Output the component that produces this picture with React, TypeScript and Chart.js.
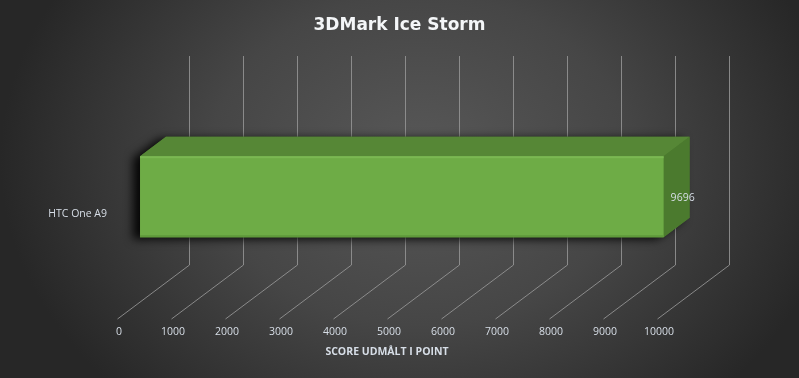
import React, { useEffect, useRef } from 'react';
import { Chart, registerables } from 'chart.js';

Chart.register(...registerables);

const chartTitle = '3DMark Ice Storm';
const axisTitle = 'SCORE UDMÅLT I POINT';
const categories = ['HTC One A9'];
const scores = [9696];
const scaleMin = 0;
const scaleMax = 10000;
const scaleStep = 1000;

const FONT = "'Open Sans', 'DejaVu Sans', sans-serif";
const TITLE_FONT = "'DejaVu Sans', 'Open Sans', sans-serif";
const LABEL_COLOR = '#d7dee7';

// 3D projection helpers (depth offsets)
const FLOOR_DX = 72;
const FLOOR_DY = -54;
const WALL_RISE = 209;
const BAR_FRONT = 0.32;
const BAR_DEPTH = 0.36;

const backgroundPlugin = {
  id: 'bg',
  beforeDraw(chart: any) {
    const { ctx } = chart;
    ctx.save();
    ctx.translate(420, 160);
    ctx.scale(1, 330 / 420);
    const g = ctx.createRadialGradient(0, 0, 0, 0, 0, 420);
    g.addColorStop(0, '#585858');
    g.addColorStop(0.5, '#464646');
    g.addColorStop(1, '#272727');
    ctx.fillStyle = g;
    ctx.fillRect(-1000, -1000, 3000, 3000);
    ctx.restore();
  },
};

const floorPlugin = {
  id: 'floor3d',
  beforeDatasetsDraw(chart: any) {
    const { ctx, chartArea } = chart;
    const xs = chart.scales.x;
    const bottom = chartArea.bottom;
    ctx.save();
    ctx.strokeStyle = 'rgba(150,150,150,0.85)';
    ctx.lineWidth = 1;
    xs.ticks.forEach((t: any) => {
      const px = Math.round(xs.getPixelForValue(t.value)) + 0.5;
      ctx.beginPath();
      ctx.moveTo(px, bottom);
      ctx.lineTo(px + FLOOR_DX, bottom + FLOOR_DY);
      ctx.lineTo(px + FLOOR_DX, bottom + FLOOR_DY - WALL_RISE);
      ctx.stroke();
    });
    ctx.restore();
  },
  afterDatasetsDraw(chart: any) {
    const { ctx } = chart;
    const meta = chart.getDatasetMeta(0);
    const fdx = FLOOR_DX * BAR_FRONT;
    const fdy = FLOOR_DY * BAR_FRONT;
    const bdx = FLOOR_DX * BAR_DEPTH;
    const bdy = FLOOR_DY * BAR_DEPTH;
    meta.data.forEach((el: any, i: number) => {
      const { x, y, base, height } = el.getProps(['x', 'y', 'base', 'height'], true);
      const L = base + fdx;
      const R = x + fdx;
      const T = y - height / 2 + fdy;
      const B = y + height / 2 + fdy;
      ctx.save();
      // shadow silhouette
      ctx.shadowColor = 'rgba(0,0,0,0.9)';
      ctx.shadowBlur = 10;
      ctx.shadowOffsetX = -7;
      ctx.shadowOffsetY = 2;
      ctx.fillStyle = '#4b7a2d';
      ctx.beginPath();
      ctx.moveTo(L, B);
      ctx.lineTo(L, T);
      ctx.lineTo(L + bdx, T + bdy);
      ctx.lineTo(R + bdx, T + bdy);
      ctx.lineTo(R + bdx, B + bdy);
      ctx.lineTo(R, B);
      ctx.closePath();
      ctx.fill();
      ctx.restore();

      ctx.save();
      // top face
      ctx.fillStyle = '#568736';
      ctx.beginPath();
      ctx.moveTo(L, T);
      ctx.lineTo(L + bdx, T + bdy);
      ctx.lineTo(R + bdx, T + bdy);
      ctx.lineTo(R, T);
      ctx.closePath();
      ctx.fill();
      // side face
      ctx.fillStyle = '#4b7a2e';
      ctx.beginPath();
      ctx.moveTo(R, T);
      ctx.lineTo(R + bdx, T + bdy);
      ctx.lineTo(R + bdx, B + bdy);
      ctx.lineTo(R, B);
      ctx.closePath();
      ctx.fill();
      // front face
      ctx.fillStyle = '#6eac46';
      ctx.fillRect(L, T, R - L, B - T);
      ctx.fillStyle = '#7bb853';
      ctx.fillRect(L, T, R - L, 2);
      ctx.fillStyle = '#5f9a3b';
      ctx.fillRect(L, B - 2, R - L, 2);
      // value label
      ctx.fillStyle = LABEL_COLOR;
      ctx.font = `10.5px ${FONT}`;
      ctx.textAlign = 'left';
      ctx.textBaseline = 'middle';
      ctx.fillText(String(scores[i]), R + 7, (T + B) / 2 + 1);
      ctx.restore();
    });
  },
};

export default function App() {
  const ref = useRef<HTMLCanvasElement | null>(null);
  useEffect(() => {
    if (!ref.current) return;
    const chart = new Chart(ref.current, {
      type: 'bar',
      data: {
        labels: categories,
        datasets: [
          {
            label: 'Score',
            data: scores,
            backgroundColor: 'rgba(0,0,0,0)',
            borderWidth: 0,
            barThickness: 81,
          },
        ],
      },
      options: {
        indexAxis: 'y',
        animation: false,
        responsive: false,
        devicePixelRatio: 1,
        layout: { padding: { left: 0, right: 0, top: 0, bottom: 0 } },
        plugins: {
          legend: { display: false },
          tooltip: { enabled: false },
          title: {
            display: true,
            text: chartTitle,
            color: '#f4f6f8',
            font: { family: TITLE_FONT, size: 17, weight: 'bold' },
            padding: { top: 15, bottom: 73.6 },
          },
        },
        scales: {
          x: {
            type: 'linear',
            min: scaleMin,
            max: scaleMax,
            grid: { display: false, drawTicks: false },
            border: { display: false },
            ticks: {
              stepSize: scaleStep,
              color: LABEL_COLOR,
              font: { family: FONT, size: 10.5 },
              padding: 7,
              labelOffset: 2,
              callback: (v: any) => String(v),
            },
            title: {
              display: true,
              text: axisTitle,
              color: LABEL_COLOR,
              font: { family: FONT, size: 10.5, weight: 'bold' },
              padding: { top: 0, bottom: 19.4 },
            },
            afterFit: (s: any) => {
              s.height = 59;
            },
          },
          y: {
            type: 'category',
            grid: { display: false, drawTicks: false },
            border: { display: false },
            ticks: {
              color: LABEL_COLOR,
              font: { family: FONT, size: 10.5 },
              padding: 10,
            },
            afterFit: (s: any) => {
              s.width = 117;
            },
          },
          yRight: {
            type: 'category',
            position: 'right',
            display: true,
            grid: { display: false, drawTicks: false },
            border: { display: false },
            ticks: { display: false },
            afterFit: (s: any) => {
              s.width = 142;
            },
          },
        },
      },
      plugins: [backgroundPlugin, floorPlugin],
    } as any);
    return () => chart.destroy();
  }, []);
  return (
    <div style={{ position: 'fixed', left: 0, top: 0, width: 799, height: 378 }}>
      <canvas ref={ref} width={799} height={378} style={{ display: 'block' }} />
    </div>
  );
}
